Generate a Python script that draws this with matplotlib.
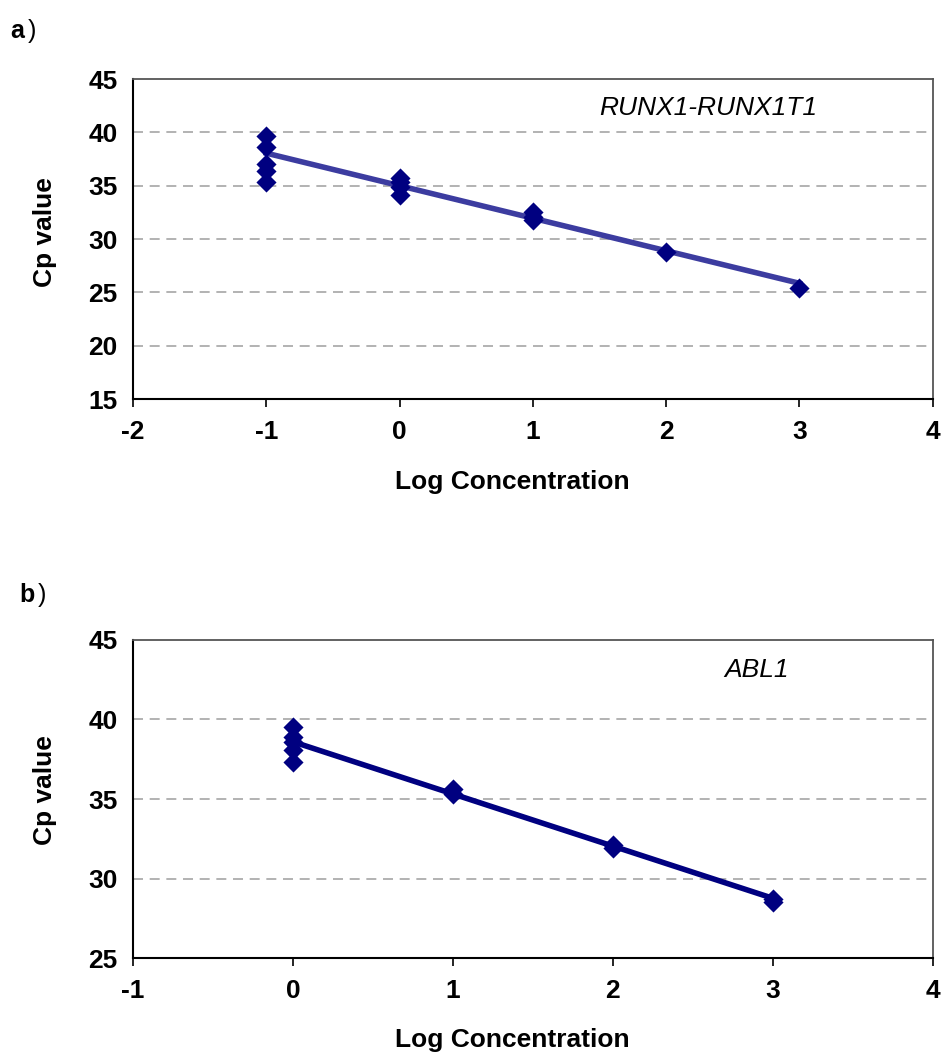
import numpy as np
import matplotlib
matplotlib.use("Agg")
import matplotlib.pyplot as plt
from matplotlib.ticker import FuncFormatter

plt.rcParams["font.family"] = ["Liberation Sans", "DejaVu Sans"]

# panel a: RUNX1-RUNX1T1 standard curve
a_log_conc = [-1, -1, -1, -1, -1, 0, 0, 0, 0, 1, 1, 1, 2, 3]
a_cp = [39.7, 38.6, 37.0, 36.4, 35.3, 35.7, 35.3, 34.9, 34.1, 32.5, 32.1, 31.8, 28.8, 25.4]
a_fit = (-3.05, 35.0)  # slope, intercept of trend line as drawn
a_label = "RUNX1-RUNX1T1"

# panel b: ABL1 standard curve
b_log_conc = [0, 0, 0, 0, 0, 1, 1, 2, 2, 3, 3]
b_cp = [39.5, 38.9, 38.6, 38.1, 37.3, 35.6, 35.3, 32.1, 31.9, 28.7, 28.5]
b_fit = (-3.28, 38.6)
b_label = "ABL1"

MARKER = "#000080"
FS = 19


def draw_panel(ax, x, y, fit, label, xlim, ylim, line_color, label_xy, ylab_y):
    x = np.asarray(x, dtype=float)
    y = np.asarray(y, dtype=float)
    slope, intercept = fit
    xs = np.array([x.min(), x.max()])
    ax.plot(xs, slope * xs + intercept, color=line_color, lw=4, zorder=2)
    ax.scatter(x, y, marker="D", s=105, color=MARKER, zorder=3, linewidths=0)

    ax.set_xlim(*xlim)
    ax.set_ylim(*ylim)
    ax.set_xticks(np.arange(xlim[0], xlim[1] + 1, 1))
    ax.set_yticks(np.arange(ylim[0], ylim[1] + 1, 5))
    ax.xaxis.set_major_formatter(FuncFormatter(lambda v, p: f"{int(v)}"))
    for yt in ax.get_yticks()[1:-1]:
        ax.axhline(yt, color="#a6a6a6", lw=1.2, ls=(0, (6, 4)), zorder=1)

    ax.tick_params(axis="x", direction="out", length=6, width=1.2, pad=9)
    ax.tick_params(axis="y", length=0, pad=11)
    for t in ax.get_xticklabels() + ax.get_yticklabels():
        t.set_fontsize(FS)
        t.set_fontweight("bold")
    ax.spines["left"].set_color("black")
    ax.spines["bottom"].set_color("black")
    ax.spines["left"].set_linewidth(1.5)
    ax.spines["bottom"].set_linewidth(1.5)
    ax.spines["top"].set_color("#555555")
    ax.spines["right"].set_color("#555555")
    ax.spines["top"].set_linewidth(1.3)
    ax.spines["right"].set_linewidth(1.3)

    ax.set_xlabel("Log Concentration", fontsize=FS, fontweight="bold", labelpad=20)
    ax.set_ylabel("Cp value", fontsize=FS, fontweight="bold")
    ax.xaxis.set_label_coords(0.474, -0.2)
    ax.yaxis.set_label_coords(-0.11, ylab_y)
    ax.xaxis.label.set_va("center")
    ax.yaxis.label.set_va("center")
    ax.text(label_xy[0], label_xy[1], label, transform=ax.transAxes,
            fontsize=FS, style="italic", ha="left", va="center")


fig = plt.figure(figsize=(9.43, 10.55), dpi=100)
ax_a = fig.add_axes([0.141, 0.6218, 0.848, 0.3033])
ax_b = fig.add_axes([0.141, 0.0919, 0.848, 0.3015])

draw_panel(ax_a, a_log_conc, a_cp, a_fit, a_label, (-2, 4), (15, 45), "#3c3ca0",
           (0.583, 0.91), 0.522)
draw_panel(ax_b, b_log_conc, b_cp, b_fit, b_label, (-1, 4), (25, 45), MARKER,
           (0.739, 0.905), 0.528)
# x label centres: a at y=482 px, b at y=1040 px
ax_a.xaxis.set_label_coords(0.474, -(482 - 399) / 320)
ax_b.xaxis.set_label_coords(0.474, -(1040 - 958) / 318)

fig.text(0.011, 0.971, "a", fontsize=18, fontweight="bold", va="center")
fig.text(0.029, 0.971, ")", fontsize=18, va="center")
fig.text(0.021, 0.436, "b", fontsize=18, fontweight="bold", va="center")
fig.text(0.040, 0.436, ")", fontsize=18, va="center")

fig.savefig("out.png", dpi=100)
